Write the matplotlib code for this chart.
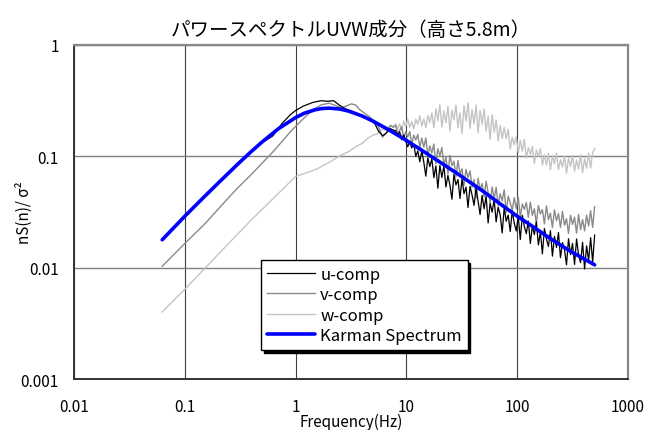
import numpy as np
import matplotlib
matplotlib.use('Agg')
import matplotlib.pyplot as plt

plt.rcParams['font.family'] = ['Noto Sans CJK JP', 'DejaVu Sans']

# --- low-frequency part of each measured spectrum (smooth region) ---
u_lo_f = [0.0625, 0.1, 0.15, 0.2, 0.3, 0.4, 0.5, 0.62, 0.75, 0.89, 1.0, 1.17, 1.43, 1.7,
          1.95, 2.2, 2.5, 2.8, 3.2, 3.6, 4.2, 4.7, 5.2, 5.6, 6.1, 6.6, 7.1, 7.6]
u_lo_s = [0.0178, 0.0288, 0.0436, 0.0578, 0.0855, 0.111, 0.133, 0.152, 0.196, 0.235, 0.258,
          0.282, 0.305, 0.316, 0.312, 0.316, 0.287, 0.268, 0.255, 0.242, 0.225, 0.212, 0.196,
          0.168, 0.153, 0.162, 0.178, 0.172]

v_lo_f = [0.0625, 0.1, 0.15, 0.2, 0.256, 0.3, 0.4, 0.5, 0.62, 0.75, 0.89, 1.05, 1.2, 1.43,
          1.7, 2.0, 2.3, 2.6, 2.9, 3.2, 3.5, 3.8, 4.3, 4.7, 5.1, 5.5, 6.1, 6.6, 7.2, 7.6]
v_lo_s = [0.0103, 0.0165, 0.0245, 0.0335, 0.044, 0.052, 0.069, 0.087, 0.109, 0.135, 0.165,
          0.195, 0.222, 0.262, 0.290, 0.300, 0.286, 0.272, 0.284, 0.296, 0.288, 0.262, 0.240,
          0.225, 0.206, 0.190, 0.149, 0.163, 0.190, 0.182]

w_lo_f = [0.0625, 0.1, 0.158, 0.256, 0.4, 0.6, 0.8, 1.0, 1.25, 1.56, 2.0, 2.5, 3.0, 3.5,
          4.0, 4.5, 5.0, 5.5, 6.0, 6.5, 7.1, 7.6]
w_lo_s = [0.0040, 0.0064, 0.0103, 0.017, 0.027, 0.040, 0.053, 0.066, 0.071, 0.077, 0.088,
          0.101, 0.110, 0.122, 0.131, 0.146, 0.155, 0.160, 0.176, 0.172, 0.187, 0.185]

# --- high-frequency part, 100 log-spaced bins from 8 Hz to 500 Hz ---
f_hi = np.geomspace(8, 500, 100)

u_hi = [0.170, 0.156, 0.166, 0.141, 0.156, 0.137, 0.122, 0.135, 0.119, 0.129,
        0.100, 0.112, 0.0893, 0.112, 0.0885, 0.0664, 0.0972, 0.0808, 0.0951, 0.0643,
        0.0821, 0.0517, 0.0828, 0.0646, 0.0824, 0.0530, 0.0673, 0.0551, 0.0412, 0.0691,
        0.0554, 0.0619, 0.0418, 0.0628, 0.0462, 0.0530, 0.0347, 0.0539, 0.0449, 0.0363,
        0.0522, 0.0395, 0.0300, 0.0446, 0.0338, 0.0439, 0.0252, 0.0379, 0.0315, 0.0408,
        0.0258, 0.0350, 0.0298, 0.0205, 0.0347, 0.0261, 0.0297, 0.0211, 0.0324, 0.0251,
        0.0214, 0.0287, 0.0179, 0.0295, 0.0235, 0.0202, 0.0262, 0.0165, 0.0237, 0.0198,
        0.0258, 0.0160, 0.0210, 0.0133, 0.0225, 0.0181, 0.0155, 0.0215, 0.0127, 0.0191,
        0.0152, 0.0207, 0.0123, 0.0168, 0.0145, 0.0106, 0.0182, 0.0131, 0.0165, 0.0107,
        0.0181, 0.0130, 0.0111, 0.0169, 0.00973, 0.0157, 0.0116, 0.0186, 0.0112, 0.0196]

v_hi = [0.189, 0.161, 0.171, 0.184, 0.145, 0.166, 0.149, 0.167, 0.128, 0.155,
        0.140, 0.157, 0.120, 0.146, 0.121, 0.146, 0.101, 0.124, 0.107, 0.129,
        0.0858, 0.117, 0.101, 0.120, 0.0834, 0.0986, 0.0696, 0.102, 0.0826, 0.0901,
        0.0658, 0.0921, 0.0691, 0.0773, 0.0546, 0.0763, 0.0644, 0.0740, 0.0528, 0.0619,
        0.0423, 0.0636, 0.0506, 0.0570, 0.0432, 0.0597, 0.0474, 0.0385, 0.0531, 0.0415,
        0.0527, 0.0362, 0.0461, 0.0398, 0.0500, 0.0315, 0.0438, 0.0381, 0.0326, 0.0426,
        0.0338, 0.0429, 0.0285, 0.0374, 0.0334, 0.0385, 0.0283, 0.0388, 0.0295, 0.0338,
        0.0248, 0.0361, 0.0304, 0.0332, 0.0247, 0.0359, 0.0270, 0.0309, 0.0229, 0.0331,
        0.0264, 0.0306, 0.0230, 0.0321, 0.0241, 0.0275, 0.0203, 0.0296, 0.0245, 0.0284,
        0.0204, 0.0301, 0.0219, 0.0270, 0.0214, 0.0296, 0.0237, 0.0325, 0.0230, 0.0354]

w_hi = [0.196, 0.176, 0.196, 0.171, 0.207, 0.186, 0.216, 0.182, 0.204, 0.177,
        0.215, 0.195, 0.231, 0.187, 0.217, 0.181, 0.233, 0.201, 0.245, 0.180,
        0.268, 0.209, 0.291, 0.183, 0.256, 0.200, 0.281, 0.169, 0.260, 0.212,
        0.288, 0.181, 0.246, 0.160, 0.285, 0.208, 0.303, 0.178, 0.263, 0.195,
        0.289, 0.163, 0.259, 0.194, 0.266, 0.168, 0.230, 0.142, 0.236, 0.164,
        0.212, 0.137, 0.189, 0.144, 0.181, 0.144, 0.175, 0.116, 0.148, 0.127,
        0.150, 0.108, 0.139, 0.111, 0.142, 0.0968, 0.120, 0.104, 0.123, 0.0864,
        0.114, 0.0998, 0.117, 0.0832, 0.103, 0.0836, 0.106, 0.0758, 0.101, 0.0857,
        0.107, 0.0757, 0.0932, 0.0802, 0.101, 0.0704, 0.0967, 0.0808, 0.102, 0.0736,
        0.0928, 0.0769, 0.103, 0.0715, 0.0958, 0.0783, 0.107, 0.0783, 0.108, 0.118]

# --- fitted Karman spectrum ---
karman_f = [0.0625, 0.1, 0.15, 0.2, 0.3, 0.4, 0.5, 0.7, 1.0, 1.2, 1.5, 1.7, 2.0, 2.5, 3.0,
            4.0, 5.0, 7.0, 10, 14, 20, 30, 50, 70, 100, 140, 200, 300, 500]
karman_s = [0.0178, 0.029, 0.0434, 0.0575, 0.085, 0.111, 0.135, 0.177, 0.223, 0.244, 0.262,
            0.268, 0.271, 0.266, 0.255, 0.230, 0.207, 0.172, 0.139, 0.112, 0.0889, 0.0681,
            0.0480, 0.0375, 0.0290, 0.0232, 0.0182, 0.0141, 0.0106]

xticks = [0.01, 0.1, 1, 10, 100, 1000]
xticklabels = ['0.01', '0.1', '1', '10', '100', '1000']
yticks = [0.001, 0.01, 0.1, 1]
yticklabels = ['0.001', '0.01', '0.1', '1']

u_f = np.concatenate([u_lo_f, f_hi]); u_s = np.concatenate([u_lo_s, u_hi])
v_f = np.concatenate([v_lo_f, f_hi]); v_s = np.concatenate([v_lo_s, v_hi])
w_f = np.concatenate([w_lo_f, f_hi]); w_s = np.concatenate([w_lo_s, w_hi])

fig, ax = plt.subplots(figsize=(6.58, 4.31), dpi=100)
fig.subplots_adjust(left=0.1125, right=0.9544, top=0.8933, bottom=0.1183)

ax.plot(u_f, u_s, color='black', lw=0.9, label='u-comp', zorder=4)
ax.plot(v_f, v_s, color='#8a8a8a', lw=1.0, label='v-comp', zorder=3)
ax.plot(w_f, w_s, color='#c4c4c4', lw=1.0, label='w-comp', zorder=2)
ax.plot(karman_f, karman_s, color='#0000ff', lw=2.6, solid_capstyle='round',
        label='Karman Spectrum', zorder=5)
handles, labels = ax.get_legend_handles_labels()

ax.set_xscale('log'); ax.set_yscale('log')
ax.set_xlim(0.01, 1000); ax.set_ylim(0.001, 1)
ax.set_xticks(xticks); ax.set_xticklabels(xticklabels)
ax.set_yticks(yticks); ax.set_yticklabels(yticklabels)
ax.minorticks_off()
ax.tick_params(axis='x', length=0, pad=14, labelsize=11)
ax.tick_params(axis='y', length=0, pad=11, labelsize=11)

ax.set_axisbelow(True)
ax.xaxis.grid(True, color='#404040', lw=0.8)
ax.yaxis.grid(True, color='#808080', lw=1.0)
for side in ['left', 'bottom']:
    ax.spines[side].set_color('#333333'); ax.spines[side].set_linewidth(1.4)
for side in ['top', 'right']:
    ax.spines[side].set_color('#888888'); ax.spines[side].set_linewidth(1.6)

ax.set_title('パワースペクトルUVW成分（高さ5.8m）', fontsize=14, pad=7)
ax.set_xlabel('Frequency(Hz)', fontsize=11)
ax.xaxis.set_label_coords(0.5, -0.102)
ax.set_ylabel('nS(n)/ σ²', fontsize=11)
ax.yaxis.set_label_coords(-0.074, 0.5)

leg = ax.legend(handles, labels, loc='upper left', bbox_to_anchor=(0.3375, 0.356),
                borderaxespad=0, fontsize=12, frameon=True, fancybox=False,
                framealpha=1, edgecolor='black', handlelength=2.9, handletextpad=0.3,
                labelspacing=0.2, borderpad=0.35,
                shadow={'color': 'black', 'alpha': 1})
leg.get_frame().set_linewidth(1.0)
leg.set_zorder(10)

fig.savefig('out.png', dpi=100)
